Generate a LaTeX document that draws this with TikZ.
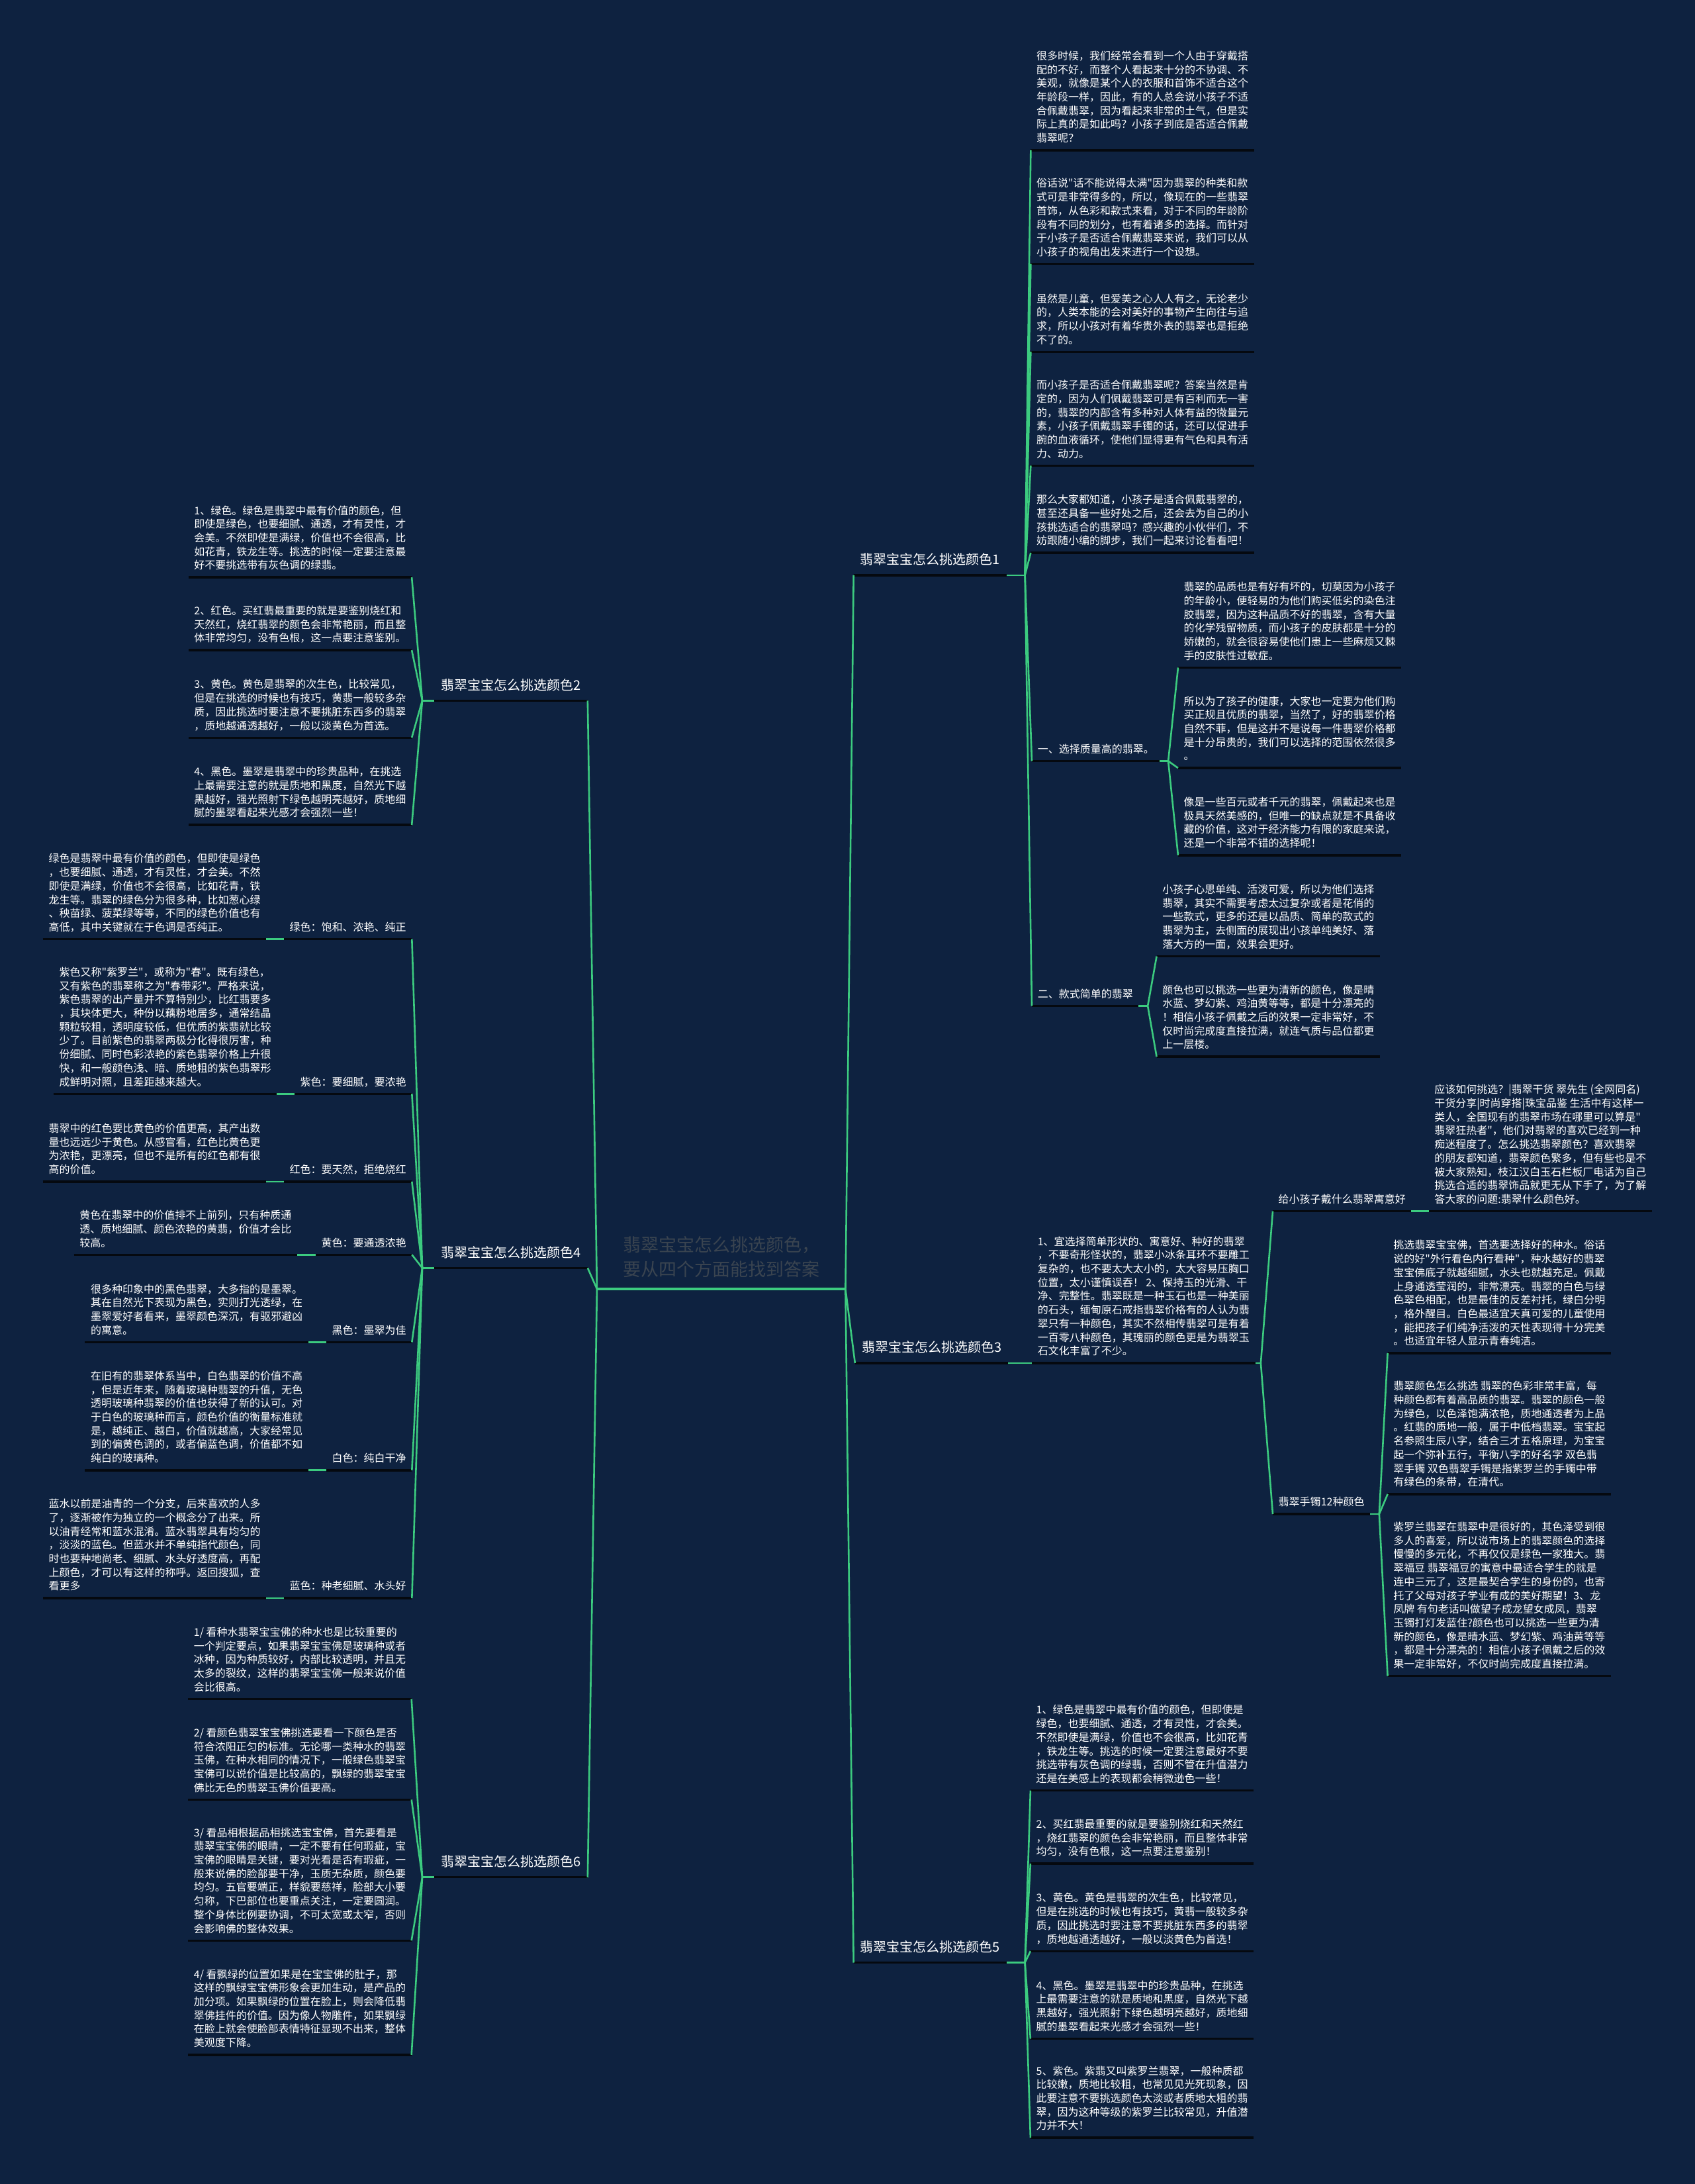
\documentclass[tikz,border=0pt]{standalone}
\usepackage{fontspec}
\newfontfamily\cjk{Noto Sans CJK SC}
\definecolor{bgc}{HTML}{0E2240}
\definecolor{gline}{HTML}{3CCB7F}
\definecolor{uline}{HTML}{05090F}
\definecolor{ctext}{HTML}{3A4450}
\begin{document}
\begin{tikzpicture}[x=2.1036pt,y=-2.1036pt,
  blk/.style={font=\cjk\fontsize{16}{20.7}\selectfont,text=white,align=left,inner xsep=8.5pt,inner ysep=9pt,text depth=3pt},
  rb/.style={blk,anchor=south west},
  lb/.style={blk,anchor=south east},
  lab/.style={font=\cjk\fontsize{20}{24}\selectfont,text=white,inner xsep=10pt,inner ysep=12.8pt,text depth=3pt},
  ctr/.style={font=\cjk\fontsize{27}{36.8}\selectfont,text=ctext,align=left,inner xsep=39pt,inner ysep=16.6pt,text depth=3pt,anchor=south west},
  ul/.style={draw=uline,line width=3.5pt},
  gul/.style={draw=gline,line width=3.5pt},
  cn/.style={draw=gline,line width=2.6pt}]
\fill[bgc] (0,0) rectangle (1217,1568);
\useasboundingbox (0,0) rectangle (1217,1568);

% root
\node[ctr] (root) at (428.7,925.4) {翡翠宝宝怎么挑选颜色，\\要从四个方面能找到答案};

% level 1
\node[lab,anchor=south west] (b1) at (613,413) {翡翠宝宝怎么挑选颜色1};
\node[lab,anchor=south west] (b3) at (614,978.6) {翡翠宝宝怎么挑选颜色3};
\node[lab,anchor=south west] (b5) at (613,1409) {翡翠宝宝怎么挑选颜色5};
\node[lab,anchor=south east] (b2) at (422,503) {翡翠宝宝怎么挑选颜色2};
\node[lab,anchor=south east] (b4) at (422,910.3) {翡翠宝宝怎么挑选颜色4};
\node[lab,anchor=south east] (b6) at (422,1347.8) {翡翠宝宝怎么挑选颜色6};

% ---- branch 1
\node[rb] (c11) at (740.2,107.8) {很多时候，我们经常会看到一个人由于穿戴搭\\配的不好，而整个人看起来十分的不协调、不\\美观，就像是某个人的衣服和首饰不适合这个\\年龄段一样，因此，有的人总会说小孩子不适\\合佩戴翡翠，因为看起来非常的土气，但是实\\际上真的是如此吗？小孩子到底是否适合佩戴\\翡翠呢？};
\node[rb] (c12) at (740.2,189.5) {俗话说"话不能说得太满"因为翡翠的种类和款\\式可是非常得多的，所以，像现在的一些翡翠\\首饰，从色彩和款式来看，对于不同的年龄阶\\段有不同的划分，也有着诸多的选择。而针对\\于小孩子是否适合佩戴翡翠来说，我们可以从\\小孩子的视角出发来进行一个设想。};
\node[rb] (c13) at (740.2,252.6) {虽然是儿童，但爱美之心人人有之，无论老少\\的，人类本能的会对美好的事物产生向往与追\\求，所以小孩对有着华贵外表的翡翠也是拒绝\\不了的。};
\node[rb] (c14) at (740.2,334.3) {而小孩子是否适合佩戴翡翠呢？答案当然是肯\\定的，因为人们佩戴翡翠可是有百利而无一害\\的，翡翠的内部含有多种对人体有益的微量元\\素，小孩子佩戴翡翠手镯的话，还可以促进手\\腕的血液循环，使他们显得更有气色和具有活\\力、动力。};
\node[rb] (c15) at (740.2,396.9) {那么大家都知道，小孩子是适合佩戴翡翠的，\\甚至还具备一些好处之后，还会去为自己的小\\孩挑选适合的翡翠吗？感兴趣的小伙伴们，不\\妨跟随小编的脚步，我们一起来讨论看看吧！};
\node[rb] (c16) at (741,546.4) {一、选择质量高的翡翠。};
\node[rb] (c17) at (741,722.2) {二、款式简单的翡翠};
\node[rb] (c161) at (846,479.3) {翡翠的品质也是有好有坏的，切莫因为小孩子\\的年龄小，便轻易的为他们购买低劣的染色注\\胶翡翠，因为这种品质不好的翡翠，含有大量\\的化学残留物质，而小孩子的皮肤都是十分的\\娇嫩的，就会很容易使他们患上一些麻烦又棘\\手的皮肤性过敏症。};
\node[rb] (c162) at (846,551.4) {所以为了孩子的健康，大家也一定要为他们购\\买正规且优质的翡翠，当然了，好的翡翠价格\\自然不菲，但是这并不是说每一件翡翠价格都\\是十分昂贵的，我们可以选择的范围依然很多\\。};
\node[rb] (c163) at (846,614) {像是一些百元或者千元的翡翠，佩戴起来也是\\极具天然美感的，但唯一的缺点就是不具备收\\藏的价值，这对于经济能力有限的家庭来说，\\还是一个非常不错的选择呢！};
\node[rb] (c171) at (830.6,686.6) {小孩子心思单纯、活泼可爱，所以为他们选择\\翡翠，其实不需要考虑太过复杂或者是花俏的\\一些款式，更多的还是以品质、简单的款式的\\翡翠为主，去侧面的展现出小孩单纯美好、落\\落大方的一面，效果会更好。};
\node[rb] (c172) at (830.6,758.6) {颜色也可以挑选一些更为清新的颜色，像是晴\\水蓝、梦幻紫、鸡油黄等等，都是十分漂亮的\\！相信小孩子佩戴之后的效果一定非常好，不\\仅时尚完成度直接拉满，就连气质与品位都更\\上一层楼。};

% ---- branch 3
\node[rb] (b31) at (741,978.6) {1、宜选择简单形状的、寓意好、种好的翡翠\\，不要奇形怪状的，翡翠小冰条耳环不要雕工\\复杂的，也不要太大太小的，太大容易压胸口\\位置，太小谨慎误吞！ 2、保持玉的光滑、干\\净、完整性。翡翠既是一种玉石也是一种美丽\\的石头，缅甸原石戒指翡翠价格有的人认为翡\\翠只有一种颜色，其实不然相传翡翠可是有着\\一百零八种颜色，其瑰丽的颜色更是为翡翠玉\\石文化丰富了不少。};
\node[rb] (g1) at (914,869.6) {给小孩子戴什么翡翠寓意好};
\node[rb] (g11) at (1026,869.6) {应该如何挑选？|翡翠干货 翠先生 (全网同名)\\干货分享|时尚穿搭|珠宝品鉴 生活中有这样一\\类人，全国现有的翡翠市场在哪里可以算是"\\翡翠狂热者"，他们对翡翠的喜欢已经到一种\\痴迷程度了。怎么挑选翡翠颜色？喜欢翡翠\\的朋友都知道，翡翠颜色繁多，但有些也是不\\被大家熟知，枝江汉白玉石栏板厂电话为自己\\挑选合适的翡翠饰品就更无从下手了，为了解\\答大家的问题:翡翠什么颜色好。};
\node[rb] (g2) at (914,1087) {翡翠手镯12种颜色};
\node[rb] (g21) at (996.5,971.5) {挑选翡翠宝宝佛，首选要选择好的种水。俗话\\说的好"外行看色内行看种"，种水越好的翡翠\\宝宝佛底子就越细腻，水头也就越充足。佩戴\\上身通透莹润的，非常漂亮。翡翠的白色与绿\\色翠色相配，也是最佳的反差衬托，绿白分明\\，格外醒目。白色最适宜天真可爱的儿童使用\\，能把孩子们纯净活泼的天性表现得十分完美\\。也适宜年轻人显示青春纯洁。};
\node[rb] (g22) at (996.5,1072.7) {翡翠颜色怎么挑选 翡翠的色彩非常丰富，每\\种颜色都有着高品质的翡翠。翡翠的颜色一般\\为绿色，以色泽饱满浓艳，质地通透者为上品\\。红翡的质地一般，属于中低档翡翠。宝宝起\\名参照生辰八字，结合三才五格原理，为宝宝\\起一个弥补五行，平衡八字的好名字 双色翡\\翠手镯 双色翡翠手镯是指紫罗兰的手镯中带\\有绿色的条带，在清代。};
\node[rb] (g23) at (996.5,1203.3) {紫罗兰翡翠在翡翠中是很好的，其色泽受到很\\多人的喜爱，所以说市场上的翡翠颜色的选择\\慢慢的多元化，不再仅仅是绿色一家独大。翡\\翠福豆 翡翠福豆的寓意中最适合学生的就是\\连中三元了，这是最契合学生的身份的，也寄\\托了父母对孩子学业有成的美好期望！3、龙\\凤牌 有句老话叫做望子成龙望女成凤，翡翠\\玉镯打灯发蓝住?颜色也可以挑选一些更为清\\新的颜色，像是晴水蓝、梦幻紫、鸡油黄等等\\，都是十分漂亮的！相信小孩子佩戴之后的效\\果一定非常好，不仅时尚完成度直接拉满。};

% ---- branch 5
\node[rb] (c51) at (740,1285.5) {1、绿色是翡翠中最有价值的颜色，但即使是\\绿色，也要细腻、通透，才有灵性，才会美。\\不然即使是满绿，价值也不会很高，比如花青\\，铁龙生等。挑选的时候一定要注意最好不要\\挑选带有灰色调的绿翡，否则不管在升值潜力\\还是在美感上的表现都会稍微逊色一些！};
\node[rb] (c52) at (740,1338) {2、买红翡最重要的就是要鉴别烧红和天然红\\，烧红翡翠的颜色会非常艳丽，而且整体非常\\均匀，没有色根，这一点要注意鉴别！};
\node[rb] (c53) at (740,1400.8) {3、黄色。黄色是翡翠的次生色，比较常见，\\但是在挑选的时候也有技巧，黄翡一般较多杂\\质，因此挑选时要注意不要挑脏东西多的翡翠\\，质地越通透越好，一般以淡黄色为首选！};
\node[rb] (c54) at (740,1463.7) {4、黑色。墨翠是翡翠中的珍贵品种，在挑选\\上最需要注意的就是质地和黑度，自然光下越\\黑越好，强光照射下绿色越明亮越好，质地细\\腻的墨翠看起来光感才会强烈一些！};
\node[rb] (c55) at (740,1534.8) {5、紫色。紫翡又叫紫罗兰翡翠，一般种质都\\比较嫩，质地比较粗，也常见见光死现象，因\\此要注意不要挑选颜色太淡或者质地太粗的翡\\翠，因为这种等级的紫罗兰比较常见，升值潜\\力并不大！};

% ---- branch 2
\node[lb] (c21) at (295.7,414.5) {1、绿色。绿色是翡翠中最有价值的颜色，但\\即使是绿色，也要细腻、通透，才有灵性，才\\会美。不然即使是满绿，价值也不会很高，比\\如花青，铁龙生等。挑选的时候一定要注意最\\好不要挑选带有灰色调的绿翡。};
\node[lb] (c22) at (295.7,466.8) {2、红色。买红翡最重要的就是要鉴别烧红和\\天然红，烧红翡翠的颜色会非常艳丽，而且整\\体非常均匀，没有色根，这一点要注意鉴别。};
\node[lb] (c23) at (295.7,529.6) {3、黄色。黄色是翡翠的次生色，比较常见，\\但是在挑选的时候也有技巧，黄翡一般较多杂\\质，因此挑选时要注意不要挑脏东西多的翡翠\\，质地越通透越好，一般以淡黄色为首选。};
\node[lb] (c24) at (295.7,592.3) {4、黑色。墨翠是翡翠中的珍贵品种，在挑选\\上最需要注意的就是质地和黑度，自然光下越\\黑越好，强光照射下绿色越明亮越好，质地细\\腻的墨翠看起来光感才会强烈一些！};

% ---- branch 4
\node[lb] (l41) at (295.8,674.3) {绿色：饱和、浓艳、纯正};
\node[lb] (l42) at (295.8,785.3) {紫色：要细腻，要浓艳};
\node[lb] (l43) at (295.8,848.3) {红色：要天然，拒绝烧红};
\node[lb] (l44) at (295.8,900.8) {黄色：要通透浓艳};
\node[lb] (l45) at (295.8,963.6) {黑色：墨翠为佳};
\node[lb] (l46) at (295.8,1055.5) {白色：纯白干净};
\node[lb] (l47) at (295.8,1147.4) {蓝色：种老细腻、水头好};
\node[lb] (t41) at (191.2,674.3) {绿色是翡翠中最有价值的颜色，但即使是绿色\\，也要细腻、通透，才有灵性，才会美。不然\\即使是满绿，价值也不会很高，比如花青，铁\\龙生等。翡翠的绿色分为很多种，比如葱心绿\\、秧苗绿、菠菜绿等等，不同的绿色价值也有\\高低，其中关键就在于色调是否纯正。};
\node[lb] (t42) at (198.8,785.3) {紫色又称"紫罗兰"，或称为"春"。既有绿色，\\又有紫色的翡翠称之为"春带彩"。严格来说，\\紫色翡翠的出产量并不算特别少，比红翡要多\\，其块体更大，种份以藕粉地居多，通常结晶\\颗粒较粗，透明度较低，但优质的紫翡就比较\\少了。目前紫色的翡翠两极分化得很厉害，种\\份细腻、同时色彩浓艳的紫色翡翠价格上升很\\快，和一般颜色浅、暗、质地粗的紫色翡翠形\\成鲜明对照，且差距越来越大。};
\node[lb] (t43) at (191.2,848.3) {翡翠中的红色要比黄色的价值更高，其产出数\\量也远远少于黄色。从感官看，红色比黄色更\\为浓艳，更漂亮，但也不是所有的红色都有很\\高的价值。};
\node[lb] (t44) at (213.5,900.8) {黄色在翡翠中的价值排不上前列，只有种质通\\透、质地细腻、颜色浓艳的黄翡，价值才会比\\较高。};
\node[lb] (t45) at (221.4,963.6) {很多种印象中的黑色翡翠，大多指的是墨翠。\\其在自然光下表现为黑色，实则打光透绿，在\\墨翠爱好者看来，墨翠颜色深沉，有驱邪避凶\\的寓意。};
\node[lb] (t46) at (221.4,1055.5) {在旧有的翡翠体系当中，白色翡翠的价值不高\\，但是近年来，随着玻璃种翡翠的升值，无色\\透明玻璃种翡翠的价值也获得了新的认可。对\\于白色的玻璃种而言，颜色价值的衡量标准就\\是，越纯正、越白，价值就越高，大家经常见\\到的偏黄色调的，或者偏蓝色调，价值都不如\\纯白的玻璃种。};
\node[lb] (t47) at (191.2,1147.4) {蓝水以前是油青的一个分支，后来喜欢的人多\\了，逐渐被作为独立的一个概念分了出来。所\\以油青经常和蓝水混淆。蓝水翡翠具有均匀的\\，淡淡的蓝色。但蓝水并不单纯指代颜色，同\\时也要种地尚老、细腻、水头好透度高，再配\\上颜色，才可以有这样的称呼。返回搜狐，查\\看更多};

% ---- branch 6
\node[lb] (c61) at (295.5,1219.8) {1/ 看种水翡翠宝宝佛的种水也是比较重要的\\一个判定要点，如果翡翠宝宝佛是玻璃种或者\\冰种，因为种质较好，内部比较透明，并且无\\太多的裂纹，这样的翡翠宝宝佛一般来说价值\\会比很高。};
\node[lb] (c62) at (295.5,1292) {2/ 看颜色翡翠宝宝佛挑选要看一下颜色是否\\符合浓阳正匀的标准。无论哪一类种水的翡翠\\玉佛，在种水相同的情况下，一般绿色翡翠宝\\宝佛可以说价值是比较高的，飘绿的翡翠宝宝\\佛比无色的翡翠玉佛价值要高。};
\node[lb] (c63) at (295.5,1393.2) {3/ 看品相根据品相挑选宝宝佛，首先要看是\\翡翠宝宝佛的眼睛，一定不要有任何瑕疵，宝\\宝佛的眼睛是关键，要对光看是否有瑕疵，一\\般来说佛的脸部要干净，玉质无杂质，颜色要\\均匀。五官要端正，样貌要慈祥，脸部大小要\\匀称，下巴部位也要重点关注，一定要圆润。\\整个身体比例要协调，不可太宽或太窄，否则\\会影响佛的整体效果。};
\node[lb] (c64) at (295.5,1475.2) {4/ 看飘绿的位置如果是在宝宝佛的肚子，那\\这样的飘绿宝宝佛形象会更加生动，是产品的\\加分项。如果飘绿的位置在脸上，则会降低翡\\翠佛挂件的价值。因为像人物雕件，如果飘绿\\在脸上就会使脸部表情特征显现不出来，整体\\美观度下降。};

% underlines
\foreach \n in {b1,b2,b3,b4,b5,b6,c11,c12,c13,c14,c15,c16,c17,c161,c162,c163,c171,c172,b31,g1,g11,g2,g21,g22,g23,c51,c52,c53,c54,c55,c21,c22,c23,c24,l41,l42,l43,l44,l45,l46,l47,t41,t42,t43,t44,t45,t46,t47,c61,c62,c63,c64}
  \draw[ul] (\n.south west) -- (\n.south east);
\draw[gul] (root.south west) -- (root.south east);

% connectors from root
\foreach \n in {b1,b3,b5} \draw[cn] (root.south east) -- (\n.south west);
\foreach \n in {b2,b4,b6} \draw[cn] (root.south west) -- (\n.south east);

% branch 1
\draw[cn] (b1.south east) -- ++(13,0) coordinate (j1);
\foreach \n in {c11,c12,c13,c14,c15,c16,c17} \draw[cn] (j1) -- (\n.south west);
\draw[cn] (c16.south east) -- ++(6,0) coordinate (j16);
\foreach \n in {c161,c162,c163} \draw[cn] (j16) -- (\n.south west);
\draw[cn] (c17.south east) -- ++(6.5,0) coordinate (j17);
\foreach \n in {c171,c172} \draw[cn] (j17) -- (\n.south west);

% branch 3
\draw[cn] (b3.south east) -- (b31.south west);
\draw[cn] (b31.south east) -- ++(4,0) coordinate (j31);
\foreach \n in {g1,g2} \draw[cn] (j31) -- (\n.south west);
\draw[cn] (g1.south east) -- (g11.south west);
\draw[cn] (g2.south east) -- ++(6.5,0) coordinate (jg2);
\foreach \n in {g21,g22,g23} \draw[cn] (jg2) -- (\n.south west);

% branch 5
\draw[cn] (b5.south east) -- ++(13,0) coordinate (j5);
\foreach \n in {c51,c52,c53,c54,c55} \draw[cn] (j5) -- (\n.south west);

% branch 2
\draw[cn] (b2.south west) -- ++(-8.7,0) coordinate (j2);
\foreach \n in {c21,c22,c23,c24} \draw[cn] (j2) -- (\n.south east);

% branch 4
\draw[cn] (b4.south west) -- ++(-8.7,0) coordinate (j4);
\foreach \n in {l41,l42,l43,l44,l45,l46,l47} \draw[cn] (j4) -- (\n.south east);
\draw[cn] (l41.south west) -- (t41.south east);
\draw[cn] (l42.south west) -- (t42.south east);
\draw[cn] (l43.south west) -- (t43.south east);
\draw[cn] (l44.south west) -- (t44.south east);
\draw[cn] (l45.south west) -- (t45.south east);
\draw[cn] (l46.south west) -- (t46.south east);
\draw[cn] (l47.south west) -- (t47.south east);

% branch 6
\draw[cn] (b6.south west) -- ++(-8.7,0) coordinate (j6);
\foreach \n in {c61,c62,c63,c64} \draw[cn] (j6) -- (\n.south east);
\end{tikzpicture}
\end{document}
